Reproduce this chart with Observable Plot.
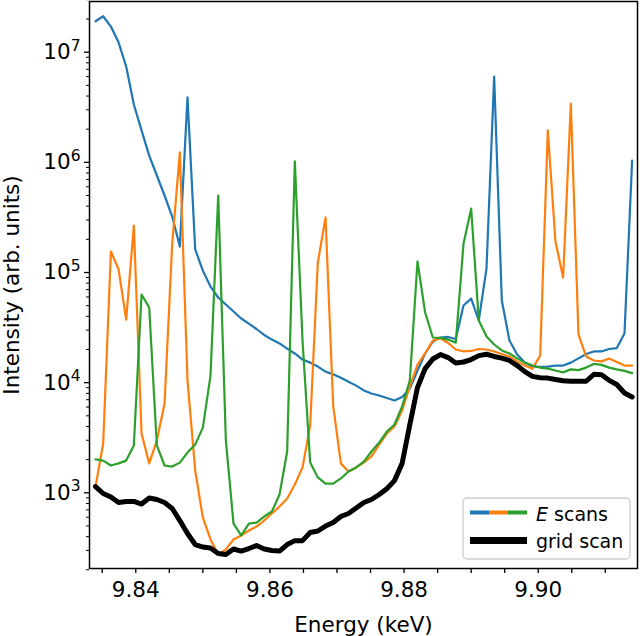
<!DOCTYPE html>
<html><head><meta charset="utf-8">
<script src="https://cdn.jsdelivr.net/npm/d3@7"></script>
<script src="https://cdn.jsdelivr.net/npm/@observablehq/plot@0.6"></script>
<style>
html,body{margin:0;padding:0;background:#fff}
#chart{width:640px;height:636px}
</style>
</head><body><div id="chart"></div>
<script>
// Energy grid (keV)
const energy = [9.83400,9.83514,9.83629,9.83743,9.83857,9.83971,9.84086,9.84200,9.84314,9.84429,9.84543,9.84657,
9.84771,9.84886,9.85000,9.85114,9.85229,9.85343,9.85457,9.85571,9.85686,9.85800,9.85914,9.86029,
9.86143,9.86257,9.86371,9.86486,9.86600,9.86714,9.86829,9.86943,9.87057,9.87171,9.87286,9.87400,
9.87514,9.87629,9.87743,9.87857,9.87971,9.88086,9.88200,9.88314,9.88429,9.88543,9.88657,9.88771,
9.88886,9.89000,9.89114,9.89229,9.89343,9.89457,9.89571,9.89686,9.89800,9.89914,9.90029,9.90143,
9.90257,9.90371,9.90486,9.90600,9.90714,9.90829,9.90943,9.91057,9.91171,9.91286,9.91400];

// E scans (three colours) and grid scan intensities (arb. units)
const eScanBlue = [1.91e7,2.12e7,1.71e7,1.23e7,7.41e6,3.35e6,1.95e6,1.15e6,7.6e5,5.0e5,3.22e5,1.72e5,
3.9e6,1.62e5,1.04e5,7.46e4,5.93e4,5.12e4,4.43e4,3.82e4,3.44e4,3.07e4,2.71e4,2.46e4,
2.27e4,2.04e4,1.84e4,1.62e4,1.52e4,1.40e4,1.26e4,1.19e4,1.11e4,1.02e4,9.4e3,8.5e3,
7.97e3,7.64e3,7.25e3,6.88e3,7.41e3,8.85e3,1.29e4,1.84e4,2.36e4,2.57e4,2.60e4,2.49e4,
5.02e4,5.80e4,3.67e4,1.09e5,6.02e6,5.57e4,2.41e4,1.80e4,1.52e4,1.40e4,1.39e4,1.40e4,
1.43e4,1.43e4,1.52e4,1.66e4,1.82e4,1.92e4,1.92e4,2.02e4,2.06e4,2.79e4,1.04e6];

const eScanOrange = [1.14e3,2.80e3,1.55e5,1.07e5,3.74e4,2.67e5,3.45e3,1.85e3,2.98e3,6.47e3,1.83e5,1.23e6,
1.05e4,1.59e3,597,377,275,306,377,410,455,494,560,649,
751,888,1.19e3,1.70e3,4.08e3,1.23e5,3.16e5,6.20e3,1.85e3,1.56e3,1.70e3,1.88e3,
2.14e3,2.74e3,3.45e3,4.00e3,5.59e3,9.23e3,1.46e4,1.84e4,2.41e4,2.53e4,2.29e4,2.00e4,
1.92e4,1.94e4,2.02e4,2.00e4,1.92e4,1.82e4,1.73e4,1.56e4,1.43e4,1.34e4,1.76e4,1.95e6,
1.91e5,9.0e4,3.42e6,2.74e4,1.73e4,1.59e4,1.56e4,1.66e4,1.54e4,1.43e4,1.43e4];

const eScanGreen = [2.01e3,1.96e3,1.77e3,1.85e3,1.96e3,2.69e3,6.31e4,4.81e4,2.69e3,1.77e3,1.73e3,1.88e3,
2.32e3,2.74e3,3.91e3,1.16e4,5.0e5,2.98e3,526,410,526,537,609,676,
965,2.37e3,1.02e6,2.41e4,1.88e3,1.38e3,1.21e3,1.21e3,1.35e3,1.56e3,1.70e3,1.92e3,
2.37e3,2.86e3,3.60e3,4.17e3,6.07e3,1.05e4,1.26e5,4.33e4,2.57e4,2.55e4,2.46e4,2.31e4,
1.82e5,3.80e5,3.67e4,2.62e4,2.22e4,1.96e4,1.84e4,1.66e4,1.52e4,1.43e4,1.37e4,1.34e4,
1.29e4,1.24e4,1.32e4,1.30e4,1.37e4,1.48e4,1.45e4,1.37e4,1.32e4,1.28e4,1.22e4];

const gridScan = [1.14e3,985,916,816,834,834,791,897,869,816,720,560,
427,339,322,315,281,275,309,296,312,332,309,299,
296,339,368,368,436,450,499,537,609,649,728,816,
869,965,1.09e3,1.29e3,1.85e3,4.17e3,9.03e3,1.34e4,1.64e4,1.80e4,1.69e4,1.51e4,
1.54e4,1.62e4,1.76e4,1.81e4,1.73e4,1.67e4,1.59e4,1.43e4,1.26e4,1.14e4,1.11e4,1.10e4,
1.07e4,1.04e4,1.03e4,1.03e4,1.03e4,1.19e4,1.18e4,1.05e4,9.62e3,8.05e3,7.41e3];

const seriesNames = ["E scan 1", "E scan 2", "E scan 3"];
const seriesColors = ["#1f77b4", "#ff7f0e", "#2ca02c"];

// Ticks
const xMajorTicks = [9.84, 9.86, 9.88, 9.90];
const xMinorTicks = [9.835, 9.845, 9.85, 9.855, 9.865, 9.87, 9.875, 9.885, 9.89, 9.895, 9.905, 9.91];
const yMajorTicks = [1e3, 1e4, 1e5, 1e6, 1e7];
const yMinorTicks = [];
for (const p of [2, 3, 4, 5, 6, 7]) for (let m = 2; m <= 9; m++) yMinorTicks.push(m * Math.pow(10, p));

const xLabel = "Energy (keV)";
const yLabel = "Intensity (arb. units)";

const rows = (vals, series) => energy.map((e, i) => ({energy: e, intensity: vals[i], series}));
const eData = [
  ...rows(eScanBlue, seriesNames[0]),
  ...rows(eScanOrange, seriesNames[1]),
  ...rows(eScanGreen, seriesNames[2])
];
const gData = rows(gridScan, "grid scan");

const sup = {"0":"⁰","1":"¹","2":"²","3":"³","4":"⁴","5":"⁵","6":"⁶","7":"⁷","8":"⁸","9":"⁹"};
const fmtPow = d => "10" + String(Math.round(Math.log10(d))).split("").map(c => sup[c]).join("");

const FS = 21.5;

const chart = Plot.plot({
  width: 640, height: 636,
  marginLeft: 89, marginRight: 3, marginTop: 1, marginBottom: 68,
  style: {fontFamily: "'DejaVu Sans'", fontSize: FS + "px", background: "white", color: "black", overflow: "visible"},
  x: {domain: [9.8331, 9.9148]},
  y: {type: "log", domain: [205.5, 2.886e7]},
  color: {domain: seriesNames, range: seriesColors},
  marks: [
    Plot.line(eData, {x: "energy", y: "intensity", z: "series", stroke: "series", strokeWidth: 2.2, strokeLinejoin: "round"}),
    Plot.line(gData, {x: "energy", y: "intensity", stroke: "black", strokeWidth: 5, strokeLinejoin: "round"}),
    Plot.axisX(xMinorTicks, {tickSize: 5, strokeWidth: 1.3, tickFormat: () => "", label: null}),
    Plot.axisX(xMajorTicks, {tickSize: 5, tickPadding: 8.6, strokeWidth: 1.3, tickFormat: d => d.toFixed(2), label: null, fontSize: FS}),
    Plot.axisY(yMinorTicks, {tickSize: 3, strokeWidth: 1, tickFormat: () => "", label: null}),
    Plot.axisY(yMajorTicks, {tickSize: 5, tickPadding: 4, strokeWidth: 1.3, tickFormat: fmtPow, label: null, fontSize: FS}),
    Plot.frame({stroke: "black", strokeWidth: 1.5}),
    Plot.text([xLabel], {frameAnchor: "bottom", lineAnchor: "middle", textAnchor: "middle", dy: 56.5, fontSize: FS, fill: "black"}),
    Plot.text([yLabel], {frameAnchor: "left", lineAnchor: "middle", textAnchor: "middle", dx: -77, rotate: -90, fontSize: FS, fill: "black"})
  ]
});

document.getElementById("chart").appendChild(chart);

// Render superscripts like matplotlib mathtext
const supInv = Object.fromEntries(Object.entries(sup).map(([k, v]) => [v, k]));
d3.select(chart).selectAll("text").each(function() {
  const t = this.textContent;
  const m = /^10([⁰¹²³⁴⁵⁶⁷⁸⁹]+)$/.exec(t);
  if (!m) return;
  const exp = m[1].split("").map(c => supInv[c]).join("");
  const sel = d3.select(this);
  sel.text(null);
  sel.append("tspan").text("10");
  sel.append("tspan").attr("font-size", "15.5px").attr("dy", "-8.5").text(exp);
});

// Legend (inside the plot, lower right)
const svg = d3.select(chart);
const lg = svg.append("g").attr("font-family", "'DejaVu Sans'").attr("font-size", 19)
  .attr("text-anchor", "start");
lg.append("rect").attr("x", 463).attr("y", 498).attr("width", 167).attr("height", 61)
  .attr("rx", 4).attr("fill", "white").attr("fill-opacity", 0.8)
  .attr("stroke", "#cccccc").attr("stroke-width", 1.3);
seriesColors.forEach((c, i) => {
  lg.append("line").attr("x1", 470 + i * 19).attr("x2", 470 + (i + 1) * 19)
    .attr("y1", 512.5).attr("y2", 512.5).attr("stroke", c).attr("stroke-width", 4);
});
const t1 = lg.append("text").attr("x", 536).attr("y", 520.5).attr("fill", "black").attr("text-anchor", "start");
t1.append("tspan").attr("font-style", "italic").text("E");
t1.append("tspan").text(" scans");
lg.append("line").attr("x1", 470).attr("x2", 527).attr("y1", 540.5).attr("y2", 540.5)
  .attr("stroke", "black").attr("stroke-width", 7);
lg.append("text").attr("x", 536).attr("y", 547.5).attr("fill", "black").attr("text-anchor", "start").text("grid scan");
</script>
</body></html>
